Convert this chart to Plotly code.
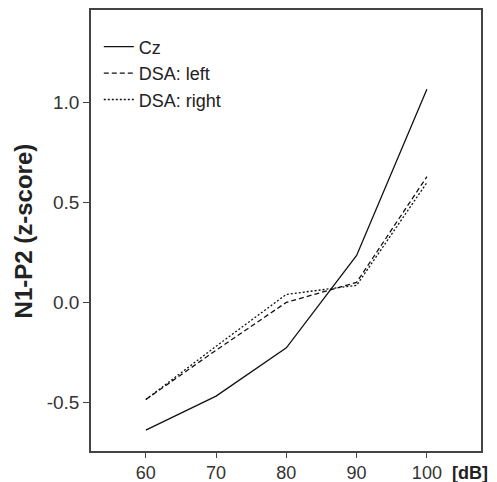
import plotly.graph_objects as go

levels_db = [60, 70, 80, 90, 100]
cz = [-0.64, -0.47, -0.228, 0.235, 1.068]
dsa_left = [-0.487, -0.24, 0.0, 0.10, 0.63]
dsa_right = [-0.487, -0.22, 0.04, 0.085, 0.60]

y_tickvals = [-0.5, 0.0, 0.5, 1.0]
y_ticktext = ["-0.5", "0.0", "0.5", "1.0"]
x_tickvals = [60, 70, 80, 90, 100]

FONT = "Liberation Sans, Arial, Helvetica, sans-serif"
INK = "#222222"
AXIS = "#444444"

fig = go.Figure()
fig.add_trace(go.Scatter(x=levels_db, y=cz, mode="lines", name="Cz",
                         line=dict(color="#111111", width=1.3)))
fig.add_trace(go.Scatter(x=levels_db, y=dsa_left, mode="lines", name="DSA: left",
                         line=dict(color="#111111", width=1.3, dash="5px,3px")))
fig.add_trace(go.Scatter(x=levels_db, y=dsa_right, mode="lines", name="DSA: right",
                         line=dict(color="#111111", width=1.3, dash="2px,2px")))

fig.update_layout(
    width=489, height=474,
    margin=dict(l=83, r=16, t=2, b=31),
    paper_bgcolor="white", plot_bgcolor="white",
    font=dict(family=FONT, color=INK, size=18),
    showlegend=True,
    legend=dict(x=0.02, y=0.958, xanchor="left", yanchor="top",
                bgcolor="rgba(0,0,0,0)", borderwidth=0,
                font=dict(size=18, color=INK), tracegroupgap=0),
    xaxis=dict(range=[52.2, 107.7], tickvals=x_tickvals, showgrid=False, zeroline=False,
               showline=True, linecolor=AXIS, linewidth=1.5, mirror=True,
               ticks="outside", ticklen=5, tickcolor=AXIS, tickwidth=1.3,
               tickfont=dict(size=18, color="#333333"), automargin=False),
    yaxis=dict(range=[-0.745, 1.465], tickvals=y_tickvals, ticktext=y_ticktext,
               showgrid=False, zeroline=False,
               showline=True, linecolor=AXIS, linewidth=1.5, mirror=True,
               ticks="outside", ticklen=6, tickcolor=AXIS, tickwidth=1.3,
               tickfont=dict(size=19, color="#333333"), automargin=False),
    annotations=[
        dict(text="<b>N1-P2 (z-score)</b>", xref="paper", yref="paper",
             x=-0.172, y=0.5, xanchor="center", yanchor="middle", textangle=-90,
             showarrow=False, font=dict(size=24, color=INK, family=FONT)),
        dict(text="<b>[dB]</b>", xref="paper", yref="paper",
             x=0.972, y=-0.051, xanchor="center", yanchor="middle",
             showarrow=False, font=dict(size=18, color=INK, family=FONT)),
    ],
)

fig.write_html("out.html")
